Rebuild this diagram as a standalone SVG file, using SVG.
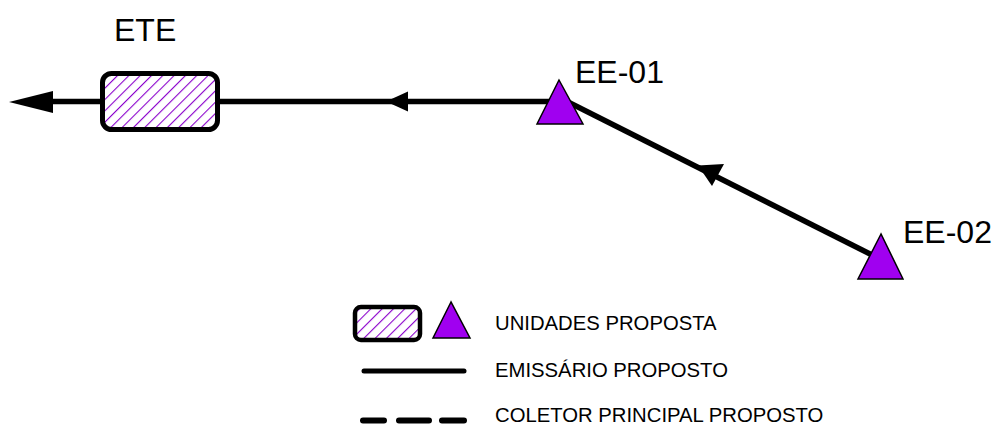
<svg xmlns="http://www.w3.org/2000/svg" width="997" height="428" viewBox="0 0 997 428">
<style>
.lbl{font-family:"Liberation Sans",Arial,sans-serif;fill:#000}
.big{font-size:32px}
.leg{font-size:20.3px}
.pipe{stroke:#000;stroke-width:5.5;fill:none}
.tri{fill:#A000F0;stroke:#000;stroke-width:1.5;stroke-linejoin:miter}
.box{fill:url(#hatch);stroke:#000;stroke-width:5}
.ah{fill:#000}
</style>
<defs>
<pattern id="hatch" patternUnits="userSpaceOnUse" width="8" height="8" patternTransform="rotate(45)">
<rect width="8" height="8" fill="#fff"/>
<line x1="0" y1="0" x2="0" y2="8" stroke="#8A00CC" stroke-width="2.2"/>
</pattern>
</defs>
<g id="connectors">
<line class="pipe" x1="53" y1="101.5" x2="104" y2="101.5"/>
<polygon class="ah" points="9,102 53,91 53,113"/>
<line class="pipe" x1="218" y1="101.5" x2="560" y2="101.5"/>
<polygon class="ah" points="386,101.5 408,91.5 408,111.5"/>
<line class="pipe" x1="568" y1="102" x2="878" y2="258"/>
<polygon class="ah" points="698,165.5 712,186 724,164"/>
</g>
<g id="ETE">
<rect class="box" x="102.5" y="73.5" width="115" height="56" rx="9"/>
<text class="lbl big" x="114" y="41">ETE</text>
</g>
<g id="EE-01">
<polygon class="tri" points="559,80 537,124 583,124"/>
<text class="lbl big" x="575" y="83">EE-01</text>
</g>
<g id="EE-02">
<polygon class="tri" points="881,234 858,279 903,279"/>
<text class="lbl big" x="903" y="243">EE-02</text>
</g>
<g id="legend">
<rect class="box" x="355" y="307" width="65" height="33" rx="6" style="stroke-width:4.5"/>
<polygon class="tri" points="451,302 433,338 470,338"/>
<text class="lbl leg" x="495" y="330">UNIDADES PROPOSTA</text>
<line x1="364" y1="371" x2="464" y2="371" stroke="#000" stroke-width="5" stroke-linecap="round"/>
<text class="lbl leg" x="495" y="377">EMISSÁRIO PROPOSTO</text>
<path d="M363,420.5H384M399,420.5H429M442,420.5H464" stroke="#000" stroke-width="6" stroke-linecap="round" fill="none"/>
<text class="lbl leg" x="495" y="422">COLETOR PRINCIPAL PROPOSTO</text>
</g>
</svg>
